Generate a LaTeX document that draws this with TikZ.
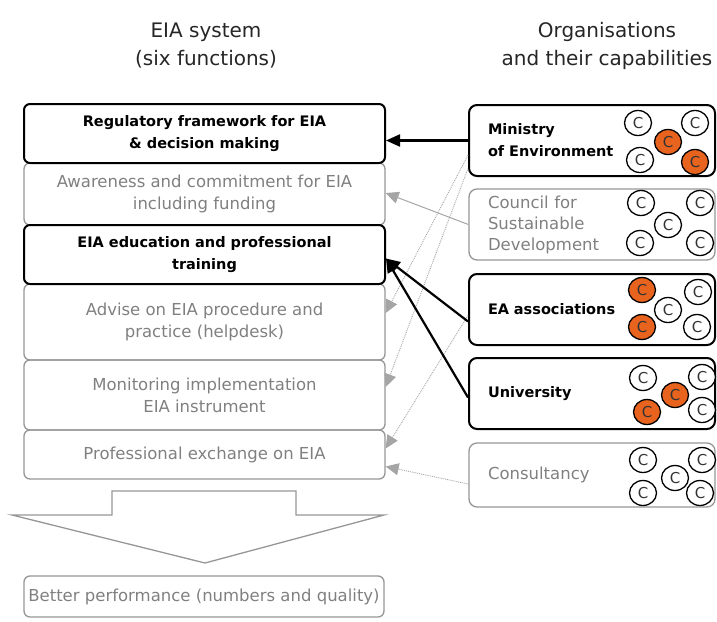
\documentclass[tikz,border=0pt]{standalone}
\usepackage{fontspec}
\setmainfont{DejaVu Sans}
\usetikzlibrary{arrows.meta,calc,shapes.geometric}
\definecolor{txtgray}{RGB}{128,128,128}
\definecolor{lgray}{RGB}{150,150,150}
\definecolor{agray}{RGB}{165,165,165}
\definecolor{cor}{RGB}{232,100,30}
\begin{document}
\begin{tikzpicture}[x=1pt,y=-1pt,
  title/.style={align=center, text=black!85, font=\fontsize{20}{28}\selectfont, inner sep=0pt},
  lbox/.style={draw=lgray, line width=1.3pt, rounded corners=6pt, minimum width=361pt, align=center, text=txtgray, font=\fontsize{16.5}{22}\selectfont, inner sep=0pt},
  lboxb/.style={lbox, draw=black, line width=2pt, text=black, font=\fontsize{14.5}{22}\selectfont\bfseries},
  rbox/.style={draw=lgray, line width=1.3pt, rounded corners=8pt, minimum height=71pt, text width=208pt, inner xsep=19pt, inner ysep=0pt, align=left, text=txtgray, font=\fontsize{16.5}{21}\selectfont},
  rboxb/.style={rbox, draw=black, line width=2pt, text=black, font=\fontsize{14.5}{22}\selectfont\bfseries},
  capc/.style={ellipse, draw=black, line width=1.3pt, fill=white, minimum width=27pt, minimum height=25pt, inner sep=0pt, font=\fontsize{15}{15}\selectfont, text=black!80},
  capo/.style={capc, fill=cor},
  blk/.style={draw=black, line width=2.2pt, -{Triangle[length=14pt,width=12pt]}},
  gry/.style={draw=agray, line width=1pt, -{Triangle[length=13pt,width=12pt]}},
  dgry/.style={draw=agray, line width=0.9pt, densely dotted, -{Triangle[length=13pt,width=12pt,sep=0pt]}}
]
\useasboundingbox (0,0) rectangle (717,621);

% titles
\node[title] (t1) at (206,46) {EIA system\\(six functions)};
\node[title] (t2) at (607,46) {Organisations\\and their capabilities};

% left column (six functions)
\node[lbox, minimum height=62pt] (b2) at (204.5,194) {Awareness and commitment for EIA\\including funding};
\node[lbox, minimum height=76pt] (b4) at (204.5,322) {Advise on EIA procedure and\\practice (helpdesk)};
\node[lbox, minimum height=70pt] (b5) at (204.5,395) {Monitoring implementation\\EIA instrument};
\node[lbox, minimum height=49pt] (b6) at (204.5,454.5) {Professional exchange on EIA};
\node[lboxb, minimum height=59pt] (b1) at (204.5,133.5) {Regulatory framework for EIA\\\& decision making};
\node[lboxb, minimum height=59pt] (b3) at (204.5,254.5) {EIA education and professional\\training};

% big arrow
\draw[lgray, line width=1.3pt] (112,491) -- (296,491) -- (296,515) -- (384,515) -- (205,563) -- (12,515) -- (112,515) -- cycle;
\node[lbox, minimum width=360pt, minimum height=41pt] (res) at (204,596.5) {Better performance (numbers and quality)};

% right column (organisations)
\node[rboxb] (m) at (592,140.5) {Ministry\\of Environment};
\node[rbox] (cs) at (592,224.5) {Council for\\Sustainable\\Development};
\node[rboxb] (ea) at (592,309.5) {EA associations};
\node[rboxb] (u) at (592,393.5) {University};
\node[rbox, minimum height=64pt] (cons) at (592,475) {Consultancy};

% capabilities
\node[capc] (m1) at (638,123) {C};
\node[capc] (m2) at (695,123) {C};
\node[capc] (m4) at (640,160) {C};
\node[capo] (m3) at (668,142) {C};
\node[capo] (m5) at (695,162) {C};

\node[capc] (c1) at (641,203) {C};
\node[capc] (c2) at (700,203) {C};
\node[capc] (c3) at (668,225) {C};
\node[capc] (c4) at (640,243) {C};
\node[capc] (c5) at (700,243) {C};

\node[capc] (e2) at (698,292) {C};
\node[capc] (e3) at (668,310) {C};
\node[capc] (e5) at (697,327) {C};
\node[capo] (e1) at (642,290) {C};
\node[capo] (e4) at (642,327) {C};

\node[capc] (u1) at (643,378) {C};
\node[capc] (u2) at (702,377) {C};
\node[capc] (u5) at (702,410) {C};
\node[capo] (u3) at (675,395) {C};
\node[capo] (u4) at (647,412) {C};

\node[capc] (k1) at (643,460) {C};
\node[capc] (k2) at (702,460) {C};
\node[capc] (k3) at (675,478) {C};
\node[capc] (k4) at (643,493) {C};
\node[capc] (k5) at (700,493) {C};

% connectors
\draw[gry] (cs.west) -- ([yshift=1pt]b2.east);
\draw[dgry] ([yshift=-14.5pt]m.west) -- ([yshift=9pt]b4.east);
\draw[dgry] ([yshift=-28pt]m.west) -- ([yshift=8pt]b5.east);
\draw[dgry] ([yshift=-6pt]ea.west) -- ([yshift=6pt]b6.east);
\draw[dgry] ([yshift=-9pt]cons.west) -- ([yshift=-12pt]b6.east);
\draw[blk] (m.west) -- (m.west -| b1.east);
\draw[blk] ([yshift=-12pt]ea.west) -- ([yshift=-4pt]b3.east);
\draw[blk] ([yshift=-4pt]u.west) -- ([yshift=-4pt]b3.east);
\end{tikzpicture}
\end{document}
